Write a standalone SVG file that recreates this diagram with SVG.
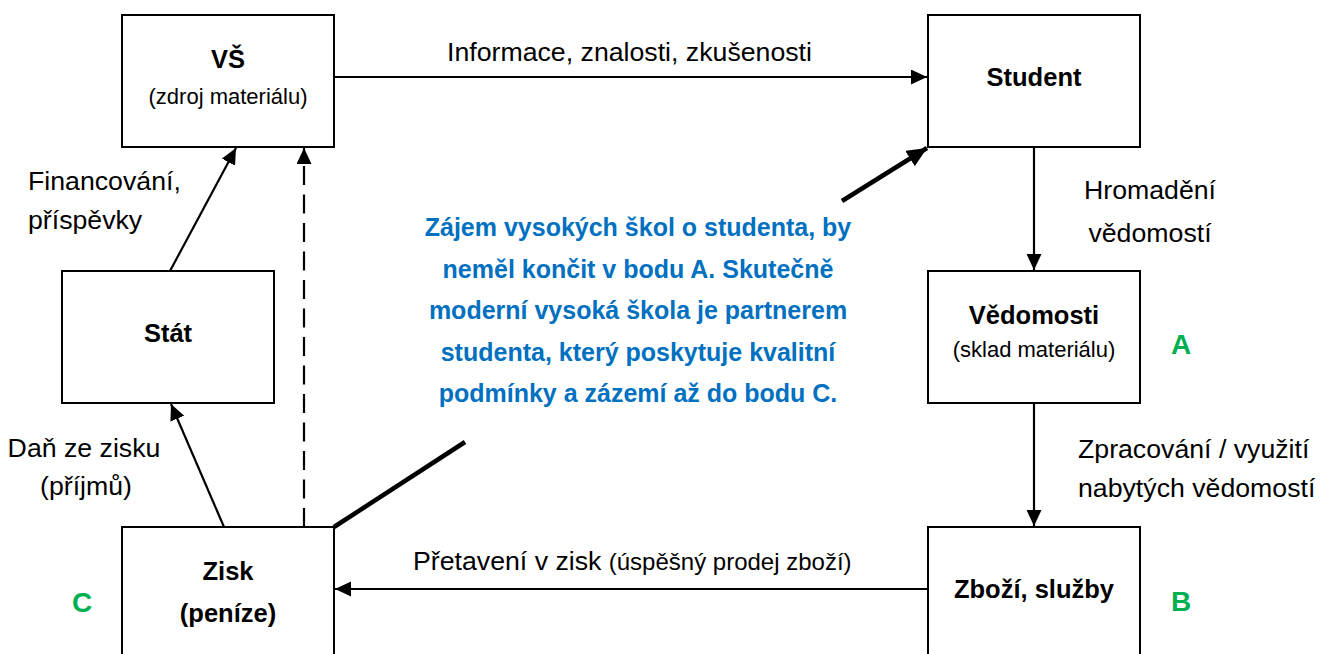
<svg xmlns="http://www.w3.org/2000/svg" width="1320" height="654" viewBox="0 0 1320 654">
  <style>
    .box { fill: #ffffff; stroke: #000000; stroke-width: 2; }
    .conn { stroke: #000000; stroke-width: 2.2; fill: none; }
    .thick { stroke: #000000; stroke-width: 4.5; fill: none; }
    .dash { stroke-dasharray: 19 9.5; }
    text { font-family: "Liberation Sans", Arial, sans-serif; fill: #000000; }
    .lbl { font-size: 26.7px; }
    .sub { font-size: 22px; }
    .sub2 { font-size: 24px; }
    .bold { font-size: 25.5px; font-weight: bold; }
    .mid { text-anchor: middle; }
    .blue { font-size: 25px; font-weight: bold; fill: #0070C0; text-anchor: middle; }
    .green { font-size: 28px; font-weight: bold; fill: #00B050; text-anchor: middle; }
  </style>
  <defs>
    <marker id="arr" markerUnits="userSpaceOnUse" markerWidth="18" markerHeight="16" refX="16" refY="7.5" orient="auto">
      <path d="M0,0 L16,7.5 L0,15 Z" fill="#000000"/>
    </marker>
    <marker id="arrBig" markerUnits="userSpaceOnUse" markerWidth="22" markerHeight="20" refX="20" refY="9" orient="auto">
      <path d="M0,0 L20,9 L0,18 Z" fill="#000000"/>
    </marker>
  </defs>
  <rect width="1320" height="654" fill="#ffffff"/>

  <g id="connectors">
    <line class="conn" x1="334" y1="77" x2="927" y2="77" marker-end="url(#arr)"/>
    <line class="conn" x1="1034" y1="147" x2="1034" y2="270" marker-end="url(#arr)"/>
    <line class="conn" x1="1034" y1="403" x2="1034" y2="526" marker-end="url(#arr)"/>
    <line class="conn" x1="928" y1="589" x2="335" y2="589" marker-end="url(#arr)"/>
    <line class="conn" x1="224" y1="527" x2="171" y2="404" marker-end="url(#arr)"/>
    <line class="conn" x1="170" y1="271" x2="236" y2="148" marker-end="url(#arr)"/>
    <line class="conn dash" x1="304" y1="527" x2="304" y2="148" marker-end="url(#arr)"/>
    <line class="thick" x1="334" y1="527" x2="465" y2="442"/>
    <line class="thick" x1="842" y1="201" x2="927" y2="148" marker-end="url(#arrBig)"/>
  </g>

  <g id="node-vs">
    <rect class="box" x="122" y="15" width="212" height="132"/>
    <text class="bold mid" x="228" y="68">VŠ</text>
    <text class="sub mid" x="228" y="104">(zdroj materiálu)</text>
  </g>
  <g id="node-student">
    <rect class="box" x="928" y="15" width="212" height="132"/>
    <text class="bold mid" x="1034" y="86">Student</text>
  </g>
  <g id="node-stat">
    <rect class="box" x="62" y="271" width="212" height="132"/>
    <text class="bold mid" x="168" y="342">Stát</text>
  </g>
  <g id="node-vedomosti">
    <rect class="box" x="928" y="271" width="212" height="132"/>
    <text class="bold mid" x="1034" y="324">Vědomosti</text>
    <text class="sub mid" x="1034" y="357">(sklad materiálu)</text>
  </g>
  <g id="node-zisk">
    <rect class="box" x="122" y="527" width="212" height="132"/>
    <text class="bold mid" x="228" y="580">Zisk</text>
    <text class="bold mid" x="228" y="622">(peníze)</text>
  </g>
  <g id="node-zbozi">
    <rect class="box" x="928" y="527" width="212" height="132"/>
    <text class="bold mid" x="1034" y="598">Zboží, služby</text>
  </g>

  <g id="labels">
    <text class="lbl mid" x="629.5" y="61">Informace, znalosti, zkušenosti</text>
    <text class="lbl" x="28" y="190">Financování,</text>
    <text class="lbl" x="28" y="229">příspěvky</text>
    <text class="lbl mid" x="1150" y="199">Hromadění</text>
    <text class="lbl mid" x="1150" y="242">vědomostí</text>
    <text class="lbl" x="1078" y="458">Zpracování / využití</text>
    <text class="lbl" x="1078" y="497">nabytých vědomostí</text>
    <text class="lbl mid" x="84" y="457">Daň ze zisku</text>
    <text class="lbl mid" x="86" y="495">(příjmů)</text>
    <text class="lbl" x="413" y="570">Přetavení v zisk <tspan class="sub2">(úspěšný prodej zboží)</tspan></text>
    <text class="green" x="1181" y="354">A</text>
    <text class="green" x="1181" y="611">B</text>
    <text class="green" x="82" y="612">C</text>
  </g>

  <g id="note">
    <text class="blue" x="638" y="236">Zájem vysokých škol o studenta, by</text>
    <text class="blue" x="638" y="278">neměl končit v bodu A. Skutečně</text>
    <text class="blue" x="638" y="319">moderní vysoká škola je partnerem</text>
    <text class="blue" x="638" y="361">studenta, který poskytuje kvalitní</text>
    <text class="blue" x="638" y="402">podmínky a zázemí až do bodu C.</text>
  </g>
</svg>
